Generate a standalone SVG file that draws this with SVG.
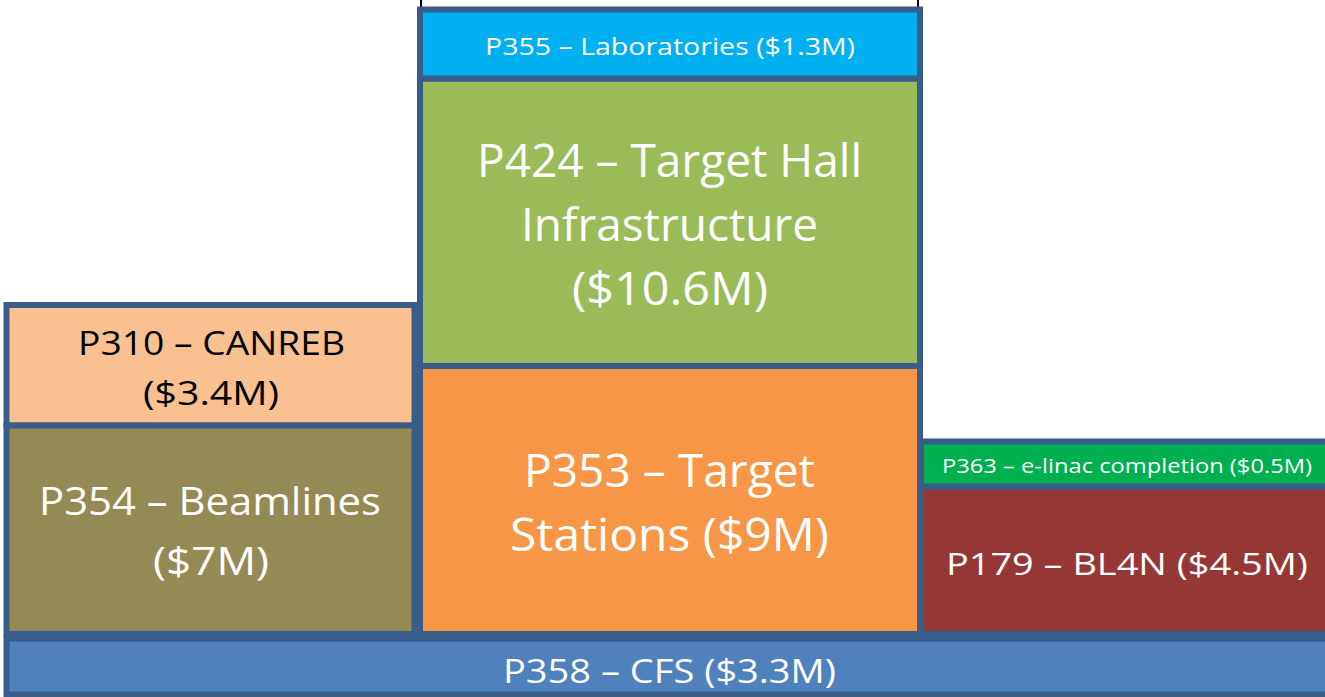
<svg xmlns="http://www.w3.org/2000/svg" width="1325" height="697" viewBox="0 0 1325 697">
<style>
.box{stroke:#385D8A;stroke-width:6}
text{font-family:"Open Sans","Liberation Sans",sans-serif;text-anchor:middle;fill:#fff}
.dark{fill:#000}
</style>
<rect width="1325" height="697" fill="#fff"/>
<g id="ticks">
<line x1="421" y1="0" x2="421" y2="8" stroke="#000" stroke-width="2"/>
<line x1="918" y1="0" x2="918" y2="8" stroke="#000" stroke-width="2"/>
</g>
<g id="P358">
<rect class="box" x="6.5" y="638.5" width="1325" height="56" fill="#4F81BD"/>
<text x="669.5" y="683" font-size="32" textLength="333" lengthAdjust="spacingAndGlyphs">P358 – CFS ($3.3M)</text>
</g>
<g id="P310">
<rect class="box" x="6.5" y="305" width="408" height="120.5" fill="#FAC090"/>
<text class="dark" x="211.5" y="355" font-size="33" textLength="267" lengthAdjust="spacingAndGlyphs">P310 – CANREB</text>
<text class="dark" x="211" y="405" font-size="33" textLength="136" lengthAdjust="spacingAndGlyphs">($3.4M)</text>
</g>
<g id="P354">
<rect class="box" x="6.5" y="425.5" width="408" height="208.5" fill="#948A54"/>
<text x="210" y="515" font-size="38" textLength="342" lengthAdjust="spacingAndGlyphs">P354 – Beamlines</text>
<text x="211" y="575" font-size="38" textLength="116" lengthAdjust="spacingAndGlyphs">($7M)</text>
</g>
<g id="P353">
<rect class="box" x="420" y="366" width="500" height="268" fill="#F79646"/>
<text x="669.5" y="487" font-size="45" textLength="291" lengthAdjust="spacingAndGlyphs">P353 – Target</text>
<text x="669.5" y="551" font-size="45" textLength="319" lengthAdjust="spacingAndGlyphs">Stations ($9M)</text>
</g>
<g id="P424">
<rect class="box" x="420" y="78.5" width="500" height="287.5" fill="#9BBB59"/>
<text x="669.5" y="177" font-size="45" textLength="385" lengthAdjust="spacingAndGlyphs">P424 – Target Hall</text>
<text x="669.5" y="241" font-size="45" textLength="297" lengthAdjust="spacingAndGlyphs">Infrastructure</text>
<text x="670" y="305" font-size="45" textLength="196" lengthAdjust="spacingAndGlyphs">($10.6M)</text>
</g>
<g id="P355">
<rect class="box" x="420" y="9.5" width="500" height="69" fill="#00B0F0"/>
<text x="670" y="55" font-size="23" textLength="370" lengthAdjust="spacingAndGlyphs">P355 – Laboratories ($1.3M)</text>
</g>
<g id="P179">
<rect class="box" x="921" y="486.5" width="410" height="147.5" fill="#953735"/>
<text x="1127" y="575" font-size="31" textLength="362" lengthAdjust="spacingAndGlyphs">P179 – BL4N ($4.5M)</text>
</g>
<g id="P363">
<rect class="box" x="921" y="441.5" width="410" height="45" fill="#00B050"/>
<text x="1127" y="473" font-size="19.5" textLength="370" lengthAdjust="spacingAndGlyphs">P363 – e-linac completion ($0.5M)</text>
</g>
<g id="connectors"/>
</svg>
